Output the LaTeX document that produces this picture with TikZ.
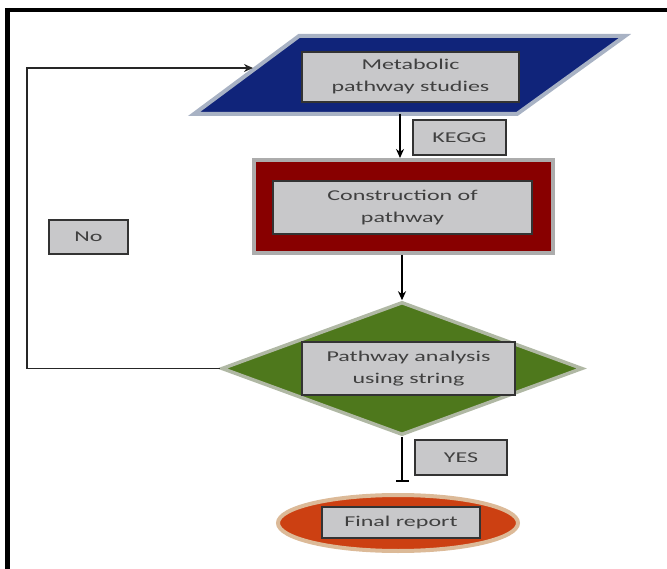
\documentclass[tikz,border=0pt]{standalone}
\usepackage{fontspec}
\newfontfamily\boxfont{Carlito}[FakeStretch=1.6]
\usetikzlibrary{arrows.meta, shapes.geometric, positioning, calc}
\definecolor{boxgray}{RGB}{200,200,202}
\definecolor{paranavy}{RGB}{16,36,122}
\definecolor{paraedge}{RGB}{168,178,196}
\definecolor{builddark}{RGB}{136,0,0}
\definecolor{buildedge}{RGB}{172,172,172}
\definecolor{checkgreen}{RGB}{78,120,28}
\definecolor{checkedge}{RGB}{176,184,164}
\definecolor{reportred}{RGB}{204,64,18}
\definecolor{reportedge}{RGB}{220,186,152}

\begin{document}
\begin{tikzpicture}[x=1pt,y=-1pt,
    graybox/.style={rectangle,fill=boxgray,draw=black!80,line width=1.5pt,
        inner sep=0pt,font=\boxfont\fontsize{15}{22}\selectfont,
        text=black!75,align=center},
    flow/.style={line width=2.4pt,-{Stealth[length=9pt,width=8pt]}}]
    \useasboundingbox (0,0) rectangle (667,569);
    % frame
    \draw[line width=4pt](5,10)--(667,10);
    \draw[line width=5pt](7.5,8)--(7.5,569);
    % Metabolic pathway studies
    \draw[line width=4pt,draw=paraedge,fill=paranavy]
        (299,36)--(625,36)--(517,114)--(194,114)--cycle;
    \node[graybox,minimum width=217pt,minimum height=50pt](studies)at(410.5,77){Metabolic\\pathway studies};
    \coordinate(para-s)at(400,114);
    \coordinate(para-w)at(253,68);
    \node[graybox,minimum width=93pt,minimum height=35pt](kegg)at(459.5,137.5){KEGG};
    % Construction of pathway
    \node[rectangle,fill=builddark,draw=buildedge,line width=4pt,
          minimum width=299pt,minimum height=93pt](build-frame)at(403.5,206.5){};
    \node[graybox,minimum width=259pt,minimum height=53pt](build)at(402.5,207.5){Construction of\\pathway};
    % Pathway analysis using string
    \node[diamond,inner sep=0pt,fill=checkgreen,draw=checkedge,line width=3.5pt,
          minimum width=361pt,minimum height=133pt](check)at(402,368.5){};
    \node[graybox,minimum width=213pt,minimum height=53pt](analysis)at(408.5,368.5){Pathway analysis\\using string};
    \node[graybox,minimum width=92pt,minimum height=35pt](yes)at(461,457.5){YES};
    % Final report
    \node[ellipse,inner sep=0pt,fill=reportred,draw=reportedge,line width=4pt,
          minimum width=240pt,minimum height=56pt](report-shape)at(398,523){};
    \node[graybox,minimum width=158pt,minimum height=31pt](report)at(401,522.5){Final report};
    % No loop
    \node[graybox,minimum width=79pt,minimum height=34pt](no)at(88.5,237){No};
    \coordinate(loop-sw)at(27,368.5);
    \coordinate(yes-end)at($(check.south)+(0,45)$);
    % connectors
    \draw[flow](para-s)--(para-s|-build-frame.north);
    \draw[flow](build-frame.south-|check.north)--(check.north);
    \draw[line width=2.4pt,-{Bar[width=13pt,line width=2pt]}](check.south)--(yes-end);
    \draw[line width=1.6pt,black!85,-{Stealth[length=9pt,width=8pt]}]
        (check.west)--(loop-sw)|-(para-w);
  \end{tikzpicture}
\end{document}
